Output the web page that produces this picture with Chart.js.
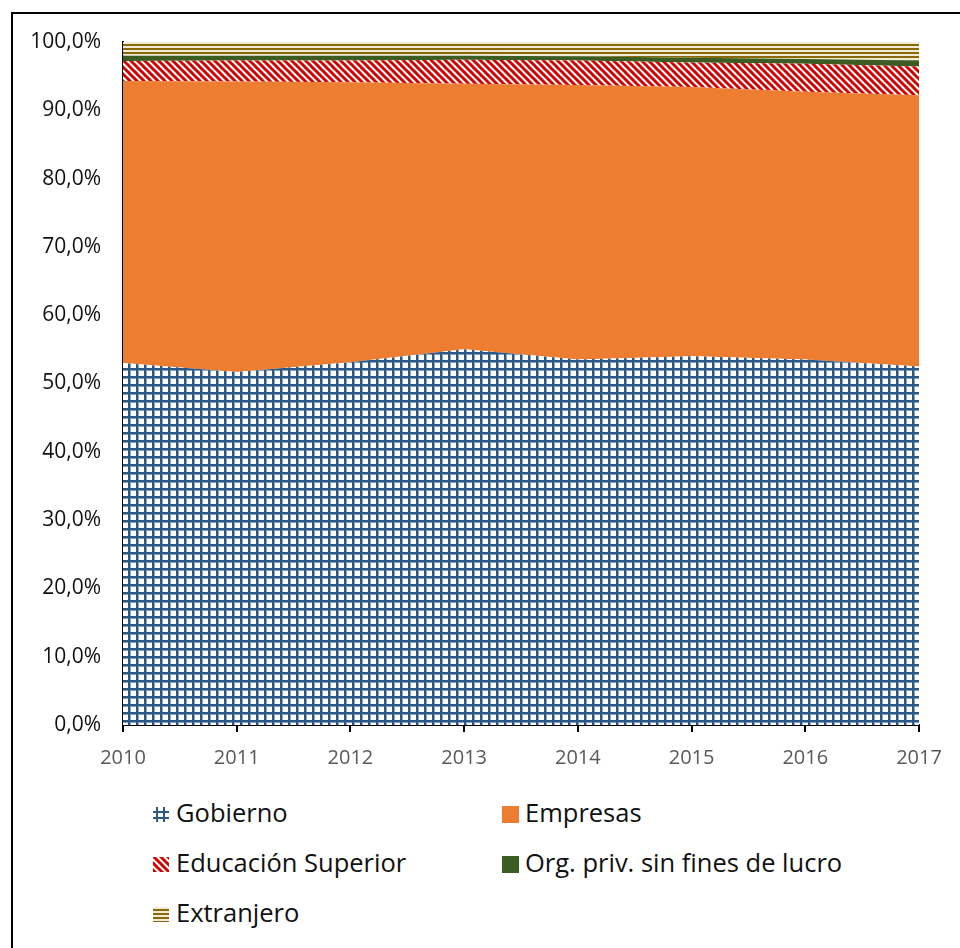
<!DOCTYPE html>
<html>
<head>
<meta charset="utf-8">
<script src="https://cdn.jsdelivr.net/npm/chart.js@4/dist/chart.umd.min.js"></script>
<style>
  html, body { margin: 0; padding: 0; background: #fff; }
  body { width: 960px; height: 948px; position: relative; overflow: hidden; font-family: "Open Sans", sans-serif; }
  #frame { position: absolute; left: 11px; top: 12px; width: 2000px; height: 2000px; border-left: 2px solid #000; border-top: 2px solid #000; }
  #wrap { position: absolute; left: 0; top: 0; width: 960px; height: 790px; }
  .lg { position: absolute; font-size: 25.5px; color: #111; line-height: 1; white-space: nowrap; }
  .sw { position: absolute; }
</style>
</head>
<body>
<div id="frame"></div>
<div id="wrap"><canvas id="c" width="960" height="790"></canvas></div>
<div id="legend"></div>
<script>
// ---- data ----
const years = ['2010', '2011', '2012', '2013', '2014', '2015', '2016', '2017'];
const gobierno    = [53.0, 51.7, 53.1, 55.0, 53.5, 54.0, 53.5, 52.5];
const empresas    = [41.3, 42.5, 41.0, 38.9, 40.2, 39.4, 39.2, 39.7];
const educacion   = [2.9, 3.1, 3.2, 3.5, 3.6, 3.6, 4.1, 4.2];
const orgPriv     = [0.8, 0.7, 0.7, 0.6, 0.6, 0.7, 0.7, 0.9];
const extranjero  = [2.0, 2.0, 2.0, 2.0, 2.1, 2.3, 2.5, 2.7];
const seriesNames = ['Gobierno', 'Empresas', 'Educación Superior', 'Org. priv. sin fines de lucro', 'Extranjero'];
const yTickLabels = ['0,0%', '10,0%', '20,0%', '30,0%', '40,0%', '50,0%', '60,0%', '70,0%', '80,0%', '90,0%', '100,0%'];

// ---- patterns ----
function tile(w, h, draw) {
  const cv = document.createElement('canvas');
  cv.width = w; cv.height = h;
  draw(cv.getContext('2d'), w, h);
  return cv;
}
function gridTile(ctx, w, h) {
  ctx.fillStyle = '#ffffff'; ctx.fillRect(0, 0, w, h);
  ctx.fillStyle = '#2A5785';
  ctx.fillRect(0, 0, 2, h);
  ctx.fillRect(0, 0, w, 2);
  ctx.fillStyle = 'rgba(42,87,133,0.55)';
  ctx.fillRect(2, 2, 1, h - 2);
  ctx.fillRect(3, 2, w - 3, 1);
}
function diagTile(ctx, w, h) {
  ctx.fillStyle = '#ffffff'; ctx.fillRect(0, 0, w, h);
  ctx.strokeStyle = '#D00000'; ctx.lineWidth = 3;
  for (let k = -1; k <= 1; k++) {
    ctx.beginPath();
    ctx.moveTo(k * w - 1, -1);
    ctx.lineTo(k * w + w + 1, h + 1);
    ctx.stroke();
  }
}
function hStripeTile(ctx, w, h) {
  ctx.fillStyle = '#F1EBD6'; ctx.fillRect(0, 0, w, h);
  ctx.fillStyle = '#8A6A08'; ctx.fillRect(0, 0, w, 2);
}
const tmp = document.createElement('canvas').getContext('2d');
const patGob = tmp.createPattern(tile(8, 8, gridTile), 'repeat');
const patEdu = tmp.createPattern(tile(7, 7, diagTile), 'repeat');
const patExt = tmp.createPattern(tile(4, 4, hStripeTile), 'repeat');

const colors = [patGob, '#ED7D31', patEdu, '#3B5D22', patExt];
const seriesData = [gobierno, empresas, educacion, orgPriv, extranjero];

const datasets = seriesNames.map((n, i) => ({
  label: n,
  data: seriesData[i],
  backgroundColor: colors[i],
  borderWidth: 0,
  pointRadius: 0,
  fill: i === 0 ? 'origin' : '-1',
  tension: 0
}));

const FONT = "'Open Sans', sans-serif";

new Chart(document.getElementById('c'), {
  type: 'line',
  data: { labels: years, datasets },
  options: {
    responsive: false,
    animation: false,
    events: [],
    layout: { padding: { left: 0, top: 42, right: 41, bottom: 0 } },
    plugins: { legend: { display: false }, tooltip: { enabled: false } },
    scales: {
      x: {
        type: 'category',
        offset: false,
        grid: { display: true, drawOnChartArea: false, drawTicks: true, tickLength: 7, color: '#000', lineWidth: 2 },
        border: { display: true, color: '#000', width: 2 },
        ticks: { color: '#595959', font: { family: FONT, size: 20 }, padding: 14, maxRotation: 0, autoSkip: false },
        afterFit: (s) => { s.height = 65; }
      },
      y: {
        stacked: true,
        min: 0, max: 100,
        grid: { display: false },
        border: { display: true, color: '#000', width: 2 },
        ticks: {
          stepSize: 10,
          color: '#111',
          font: { family: FONT, size: 21 },
          padding: 14,
          callback: (v) => yTickLabels[Math.round(v / 10)]
        },
        afterFit: (s) => { s.width = 123; }
      }
    }
  }
});

// ---- legend (HTML) ----
const legend = document.getElementById('legend');
const legendPos = [
  { x: 152, y: 800 }, { x: 501, y: 800 },
  { x: 152, y: 850 }, { x: 501, y: 850 },
  { x: 152, y: 900 }
];
function swatch(i) {
  const cv = document.createElement('canvas');
  cv.width = 18; cv.height = 18;
  const ctx = cv.getContext('2d');
  if (i === 0) {
    ctx.fillStyle = '#2C5A88';
    ctx.fillRect(4, 2, 2, 15); ctx.fillRect(11, 2, 2, 15);
    ctx.fillRect(1, 6, 16, 2); ctx.fillRect(1, 12, 16, 2);
  } else if (i === 2 || i === 4) {
    ctx.fillStyle = colors[i];
    ctx.fillRect(1, 2, 16, 15);
  } else {
    ctx.fillStyle = colors[i];
    ctx.fillRect(1, 1, 17, 17);
  }
  return cv;
}
seriesNames.forEach((n, i) => {
  const p = legendPos[i];
  const sw = swatch(i);
  sw.className = 'sw';
  sw.style.left = p.x + 'px';
  sw.style.top = (p.y + 5) + 'px';
  legend.appendChild(sw);
  const t = document.createElement('div');
  t.className = 'lg';
  t.style.left = (p.x + 24) + 'px';
  t.style.top = p.y + 'px';
  t.textContent = n;
  legend.appendChild(t);
});
</script>
</body>
</html>
